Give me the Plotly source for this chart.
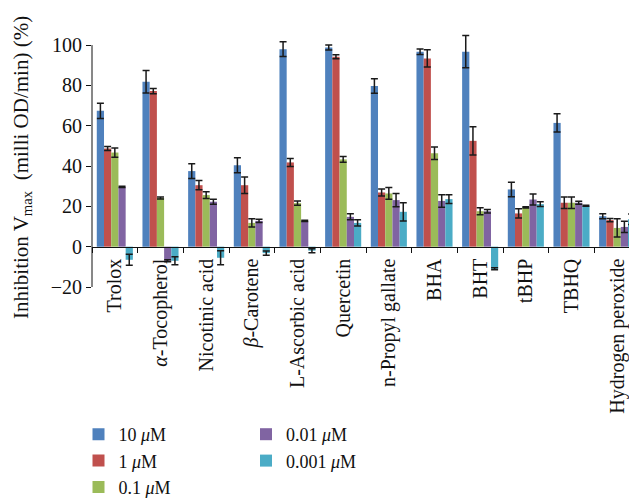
import plotly.graph_objects as go

categories = ["Trolox", "<i>α</i>-Tocopherol", "Nicotinic acid", "<i>β</i>-Carotene",
              "L-Ascorbic acid", "Quercetin", "n-Propyl gallate", "BHA", "BHT",
              "tBHP", "TBHQ", "Hydrogen peroxide"]

series_names = ["10 <i>μ</i>M", "1 <i>μ</i>M", "0.1 <i>μ</i>M", "0.01 <i>μ</i>M", "0.001 <i>μ</i>M"]

v_10 = [67.4, 81.8, 37.5, 40.4, 98.0, 98.8, 79.7, 96.7, 96.7, 28.4, 61.4, 15.1]
e_10 = [3.8, 5.6, 3.7, 3.7, 3.6, 1.2, 3.6, 1.4, 8.0, 3.6, 4.5, 1.2]
v_1 = [48.7, 77.2, 30.5, 30.5, 41.8, 94.2, 26.9, 93.4, 52.5, 16.5, 21.8, 13.2]
e_1 = [1.0, 1.3, 2.3, 4.1, 2.0, 1.0, 1.7, 4.3, 7.0, 2.3, 2.9, 0.8]
v_01 = [46.7, 24.2, 25.6, 11.8, 21.6, 43.3, 26.4, 46.3, 17.6, 19.5, 21.8, 9.3]
e_01 = [2.3, 0.5, 1.7, 2.0, 1.0, 1.4, 2.9, 3.1, 1.7, 0.3, 2.9, 4.5]
v_001 = [29.7, -7.0, 22.3, 12.8, 12.8, 14.8, 23.1, 22.7, 17.6, 23.4, 21.8, 9.8]
e_001 = [0.3, 0.5, 1.2, 0.8, 0.3, 1.5, 3.3, 3.1, 0.9, 2.7, 0.7, 2.8]
v_0001 = [-6.5, -7.0, -5.5, -3.2, -2.0, 11.8, 17.3, 23.6, -11.0, 21.1, 20.3, 13.6]
e_0001 = [2.7, 2.0, 3.5, 1.0, 1.0, 1.5, 4.5, 2.2, 0.5, 1.2, 0.3, 2.6]

y_ticks = [-20, 0, 20, 40, 60, 80, 100]
y_title = "Inhibition V<sub>max</sub>  (milli OD/min) (%)"

values = [v_10, v_1, v_01, v_001, v_0001]
errors = [e_10, e_1, e_01, e_001, e_0001]
colors = ["#4F81BD", "#C0504D", "#9BBB59", "#8064A2", "#4BACC6"]
legend_ids = ["legend", "legend", "legend", "legend2", "legend2"]

FONT = "Liberation Serif"
FS = 20

# page body has an 8px margin; plot area in figure coordinates
L, R, T, B = 84, 5, 25, 219
W, H = 637, 498
PW, PH = W - L - R, H - T - B

fig = go.Figure()
for name, vals, errs, col, lg in zip(series_names, values, errors, colors, legend_ids):
    fig.add_trace(go.Bar(
        x=categories, y=vals, name=name, legend=lg,
        marker=dict(color=col, line=dict(width=0)),
        error_y=dict(type="data", array=errs, visible=True, color="#1a1a1a",
                     thickness=1.5, width=3.5),
    ))

legend_common = dict(orientation="v", xref="container", yref="container",
                     xanchor="left", yanchor="top", itemwidth=30,
                     font=dict(family=FONT, size=18, color="#111"),
                     bgcolor="rgba(0,0,0,0)", traceorder="normal")

fig.update_layout(
    width=W, height=H,
    margin=dict(l=L, r=R, t=T, b=B, autoexpand=False),
    paper_bgcolor="white", plot_bgcolor="white",
    barmode="group", bargap=0.21, bargroupgap=0,
    font=dict(family=FONT, size=FS, color="#111"),
    showlegend=True,
    legend=dict(x=70.5 / W, y=1 - 408 / H, **legend_common),
    legend2=dict(x=238 / W, y=1 - 408 / H, **legend_common),
    xaxis=dict(
        type="category", range=[-0.5, 11.5], automargin=False,
        anchor="free", position=20 / 126,
        showline=True, linecolor="#111", linewidth=1,
        ticks="outside", tickson="boundaries", ticklen=5, tickcolor="#111",
        tickangle=-90, showgrid=False, zeroline=False, ticklabelstandoff=3,
        tickfont=dict(family=FONT, size=FS),
    ),
    yaxis=dict(
        range=[-20, 106], tickvals=y_ticks, automargin=False,
        showline=False, ticks="outside", ticklen=5, tickcolor="#111",
        showgrid=False, zeroline=False,
        tickfont=dict(family=FONT, size=FS),
    ),
    annotations=[dict(
        text=y_title, textangle=-90, showarrow=False,
        xref="paper", yref="paper",
        x=(14 - L) / PW, y=(H - B - 160) / PH,
        xanchor="center", yanchor="middle",
        font=dict(family=FONT, size=21, color="#111"),
    )],
)

fig.add_shape(type="line", xref="paper", yref="y", x0=0, x1=0, y0=-20, y1=100,
              line=dict(color="#111", width=1))

fig.write_html("out.html")
